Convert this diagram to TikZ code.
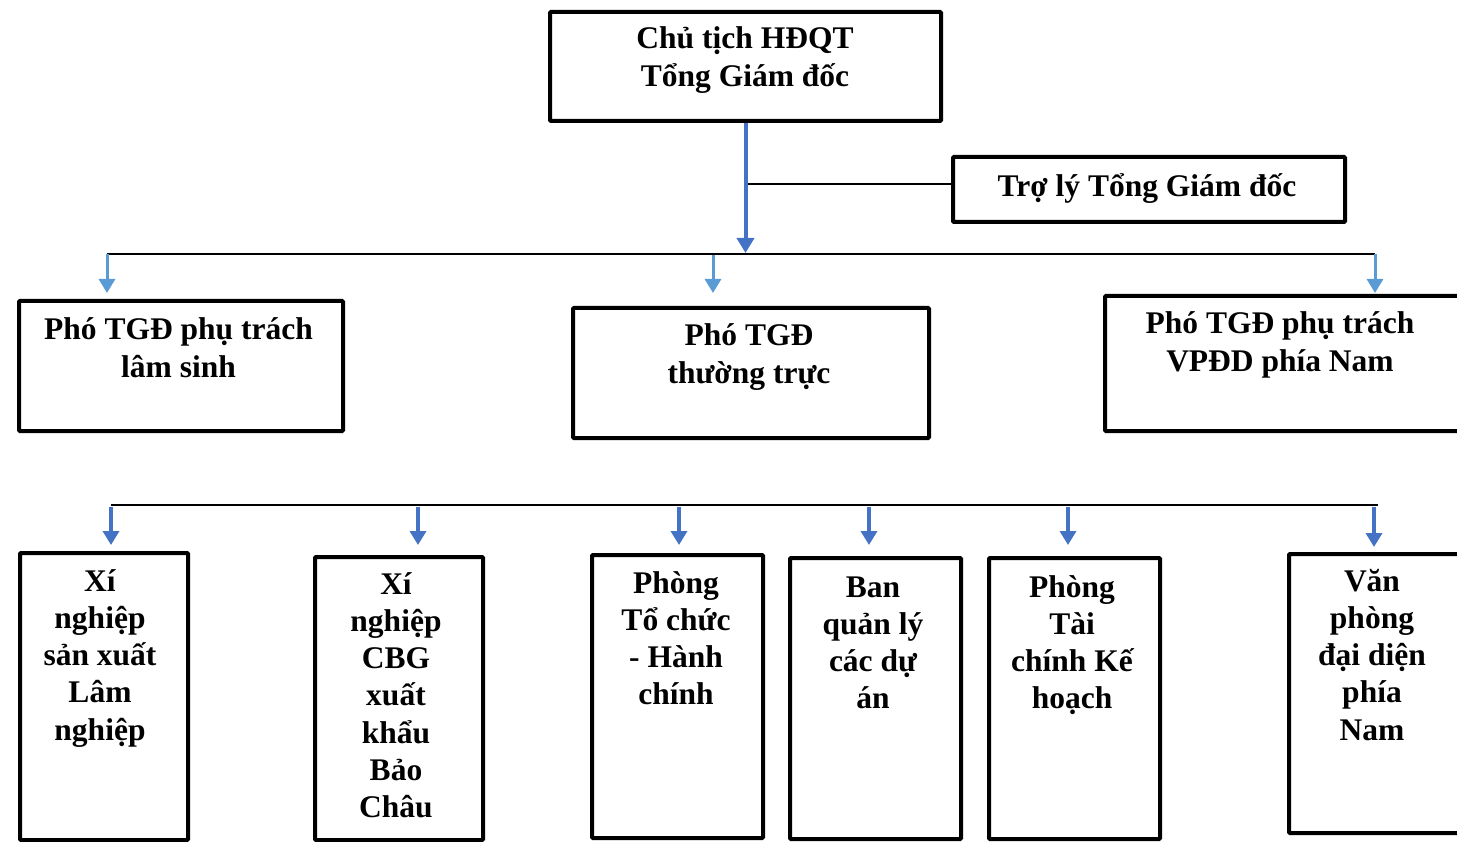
\documentclass[tikz,border=0pt]{standalone}
\usepackage{fontspec}
\setmainfont{Liberation Serif}
\usetikzlibrary{arrows.meta}
\definecolor{darkblue}{HTML}{4472C4}
\definecolor{lightblue}{HTML}{5B9BD5}
\newcommand{\tl}[1]{\begin{tabular}[t]{@{}c@{}}#1\end{tabular}}
\tikzset{
  box/.style={draw=black, line width=4pt, rounded corners=1pt, inner sep=0pt, fill=white},
  lbl/.style={anchor=base, inner sep=0pt, font=\fontsize{31.5}{37.5}\selectfont\bfseries},
  bus/.style={draw=black, line width=2pt},
  thin/.style={draw=black, line width=1.5pt},
  arrA/.style={draw=darkblue, line width=4pt, -{Triangle[length=15pt,width=17pt]}},
  arrL/.style={draw=lightblue, line width=3pt, -{Triangle[length=14pt,width=16pt]}},
  arrD/.style={draw=darkblue, line width=3.5pt, -{Triangle[length=14pt,width=16pt]}},
}
\begin{document}
\begin{tikzpicture}[x=1pt,y=-1pt]
\useasboundingbox (0,0) rectangle (1457,842);
% boxes
\node[box, minimum width=391pt, minimum height=109pt] (ceo) at (745.5,66.5) {};
\node[box, minimum width=392pt, minimum height=65pt] (asst) at (1149,189.5) {};
\node[box, minimum width=324pt, minimum height=130pt] (pa) at (181,366) {};
\node[box, minimum width=356pt, minimum height=130pt] (pb) at (751,373) {};
\node[box, minimum width=363pt, minimum height=135pt] (pc) at (1286.5,363.5) {};
\node[box, minimum width=168pt, minimum height=287pt] (d1) at (104,696.5) {};
\node[box, minimum width=168pt, minimum height=283pt] (d2) at (399,698.5) {};
\node[box, minimum width=171pt, minimum height=283pt] (d3) at (677.5,696.5) {};
\node[box, minimum width=171pt, minimum height=281pt] (d4) at (875.5,698.5) {};
\node[box, minimum width=171pt, minimum height=281pt] (d5) at (1074.5,698.5) {};
\node[box, minimum width=181pt, minimum height=279pt] (d6) at (1379.5,693.5) {};
% labels
\node[lbl] (tceo) at (745,49) {\tl{Chủ tịch HĐQT\\Tổng Giám đốc}};
\node[lbl] (tasst) at (1147,197) {Trợ lý Tổng Giám đốc};
\node[lbl] (tpa) at (178.5,340) {\tl{Phó TGĐ phụ trách\\lâm sinh}};
\node[lbl] (tpb) at (749,346) {\tl{Phó TGĐ\\thường trực}};
\node[lbl] (tpc) at (1280,334) {\tl{Phó TGĐ phụ trách\\VPĐD phía Nam}};
\begin{scope}[lbl/.append style={font=\fontsize{31.5}{37.3}\selectfont\bfseries}]
\node[lbl] (td1) at (100,591) {\tl{Xí\\nghiệp\\sản xuất\\Lâm\\nghiệp}};
\node[lbl] (td2) at (396,594) {\tl{Xí\\nghiệp\\CBG\\xuất\\khẩu\\Bảo\\Châu}};
\node[lbl] (td3) at (676,593) {\tl{Phòng\\Tổ chức\\- Hành\\chính}};
\node[lbl] (td4) at (873,597) {\tl{Ban\\quản lý\\các dự\\án}};
\node[lbl] (td5) at (1072,597) {\tl{Phòng\\Tài\\chính Kế\\hoạch}};
\node[lbl] (td6) at (1372,591) {\tl{Văn\\phòng\\đại diện\\phía\\Nam}};
\end{scope}
% coordinates
\coordinate (busL) at (107,254);
\coordinate (busR) at (1375,254);
\coordinate (tap) at (745.5,184);
\coordinate (hub) at (745.5,253);
\coordinate (a1s) at (107,254);  \coordinate (a1e) at (107,293);
\coordinate (a2s) at (713,255);  \coordinate (a2e) at (713,293);
\coordinate (a3s) at (1375,254); \coordinate (a3e) at (1375,293);
\coordinate (bL) at (111,505);
\coordinate (bR) at (1378,505);
\coordinate (b1s) at (111,507);  \coordinate (b1e) at (111,545);
\coordinate (b2s) at (418,507);  \coordinate (b2e) at (418,545);
\coordinate (b3s) at (679,507);  \coordinate (b3e) at (679,545);
\coordinate (b4s) at (869,507);  \coordinate (b4e) at (869,545);
\coordinate (b5s) at (1068,507); \coordinate (b5e) at (1068,545);
\coordinate (b6s) at (1374,507); \coordinate (b6e) at (1374,547);
% connectors
\draw[bus] (busL) -- (busR);
\draw[thin] (tap) -- (tap -| asst.west);
\draw[arrA] (ceo.south) -- (hub);
\draw[arrL] (a1s) -- (a1e);
\draw[arrL] (a2s) -- (a2e);
\draw[arrL] (a3s) -- (a3e);
\draw[bus, line width=2.5pt] (bL) -- (bR);
\draw[arrD] (b1s) -- (b1e);
\draw[arrD] (b2s) -- (b2e);
\draw[arrD] (b3s) -- (b3e);
\draw[arrD] (b4s) -- (b4e);
\draw[arrD] (b5s) -- (b5e);
\draw[arrD] (b6s) -- (b6e);
\end{tikzpicture}
\end{document}
